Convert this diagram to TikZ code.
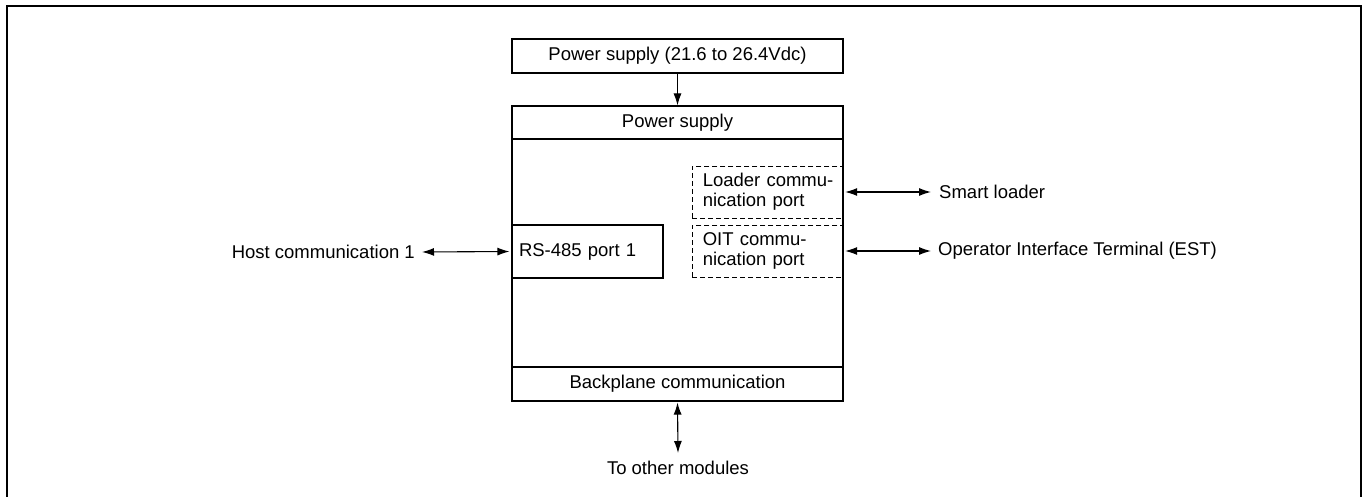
\documentclass[tikz,border=0pt]{standalone}
\usepackage{fontspec}
\setmainfont{Liberation Sans}
\usetikzlibrary{arrows.meta}
\begin{document}
\begin{tikzpicture}[x=1pt,y=-1pt,
  every node/.style={font=\fontsize{18.5}{20}\selectfont},
  box/.style={draw, line width=1.1pt, inner sep=0pt},
  dbox/.style={draw, dashed, dash pattern=on 5pt off 3pt, line width=0.9pt, inner ysep=0pt, align=left},
  lbl/.style={inner sep=0pt},
  conn/.style={line width=1.1pt, {Latex[length=12pt,width=8pt]}-{Latex[length=12pt,width=8pt]}},
  fconn/.style={line width=1.1pt, -{Latex[length=12pt,width=8pt]}}]
\useasboundingbox (0,0) rectangle (1367,497);
\draw[line width=1.6pt] (7,497) -- (7,6) -- (1361,6) -- (1361,497);
% external power supply
\node[box, minimum width=331pt, minimum height=34pt] (psx) at (677.5,56) {Power supply (21.6 to 26.4Vdc)};
% main module
\node[box, minimum width=331pt, minimum height=295pt] (main) at (677.5,253.5) {};
\node[box, minimum width=331pt, minimum height=33pt] (psi) at (677.5,122.5) {Power supply};
\node[box, minimum width=331pt, minimum height=34pt] (bp) at (677.5,384) {Backplane communication};
% ports
\node[dbox, text width=129.5pt, inner xsep=10.5pt, minimum height=52pt] (ldr) at (767.5,192) {\mbox{Loader commu-}\\\mbox{nication port}};
\node[dbox, text width=129.5pt, inner xsep=10.5pt, minimum height=52pt] (oit) at (767.5,251) {\mbox{OIT commu-}\\\mbox{nication port}};
\node[box, text width=137pt, inner xsep=7pt, align=left, minimum height=53pt] (rs) at (587.5,251.5) {\mbox{RS-485 port 1}};
% external labels
\node[lbl, anchor=east] (host) at (415,252) {Host communication 1};
\node[lbl, anchor=west] (smart) at (939,192) {Smart loader};
\node[lbl, anchor=west] (opt) at (938,251) {Operator Interface Terminal (EST)};
\node[lbl] (other) at (678,468) {To other modules};
% connectors
\draw[fconn] (psx.south) -- (main.north);
\draw[conn] ([xshift=7pt]host.east) -- ([xshift=-2pt]rs.west);
\draw[conn] ([xshift=2pt]ldr.east) -- ([xshift=-8pt]smart.west);
\draw[conn] ([xshift=2pt]oit.east) -- ([xshift=-7pt]opt.west);
\draw[conn] ([yshift=-1pt]bp.south) -- ([yshift=8pt]other.north);
\end{tikzpicture}
\end{document}
